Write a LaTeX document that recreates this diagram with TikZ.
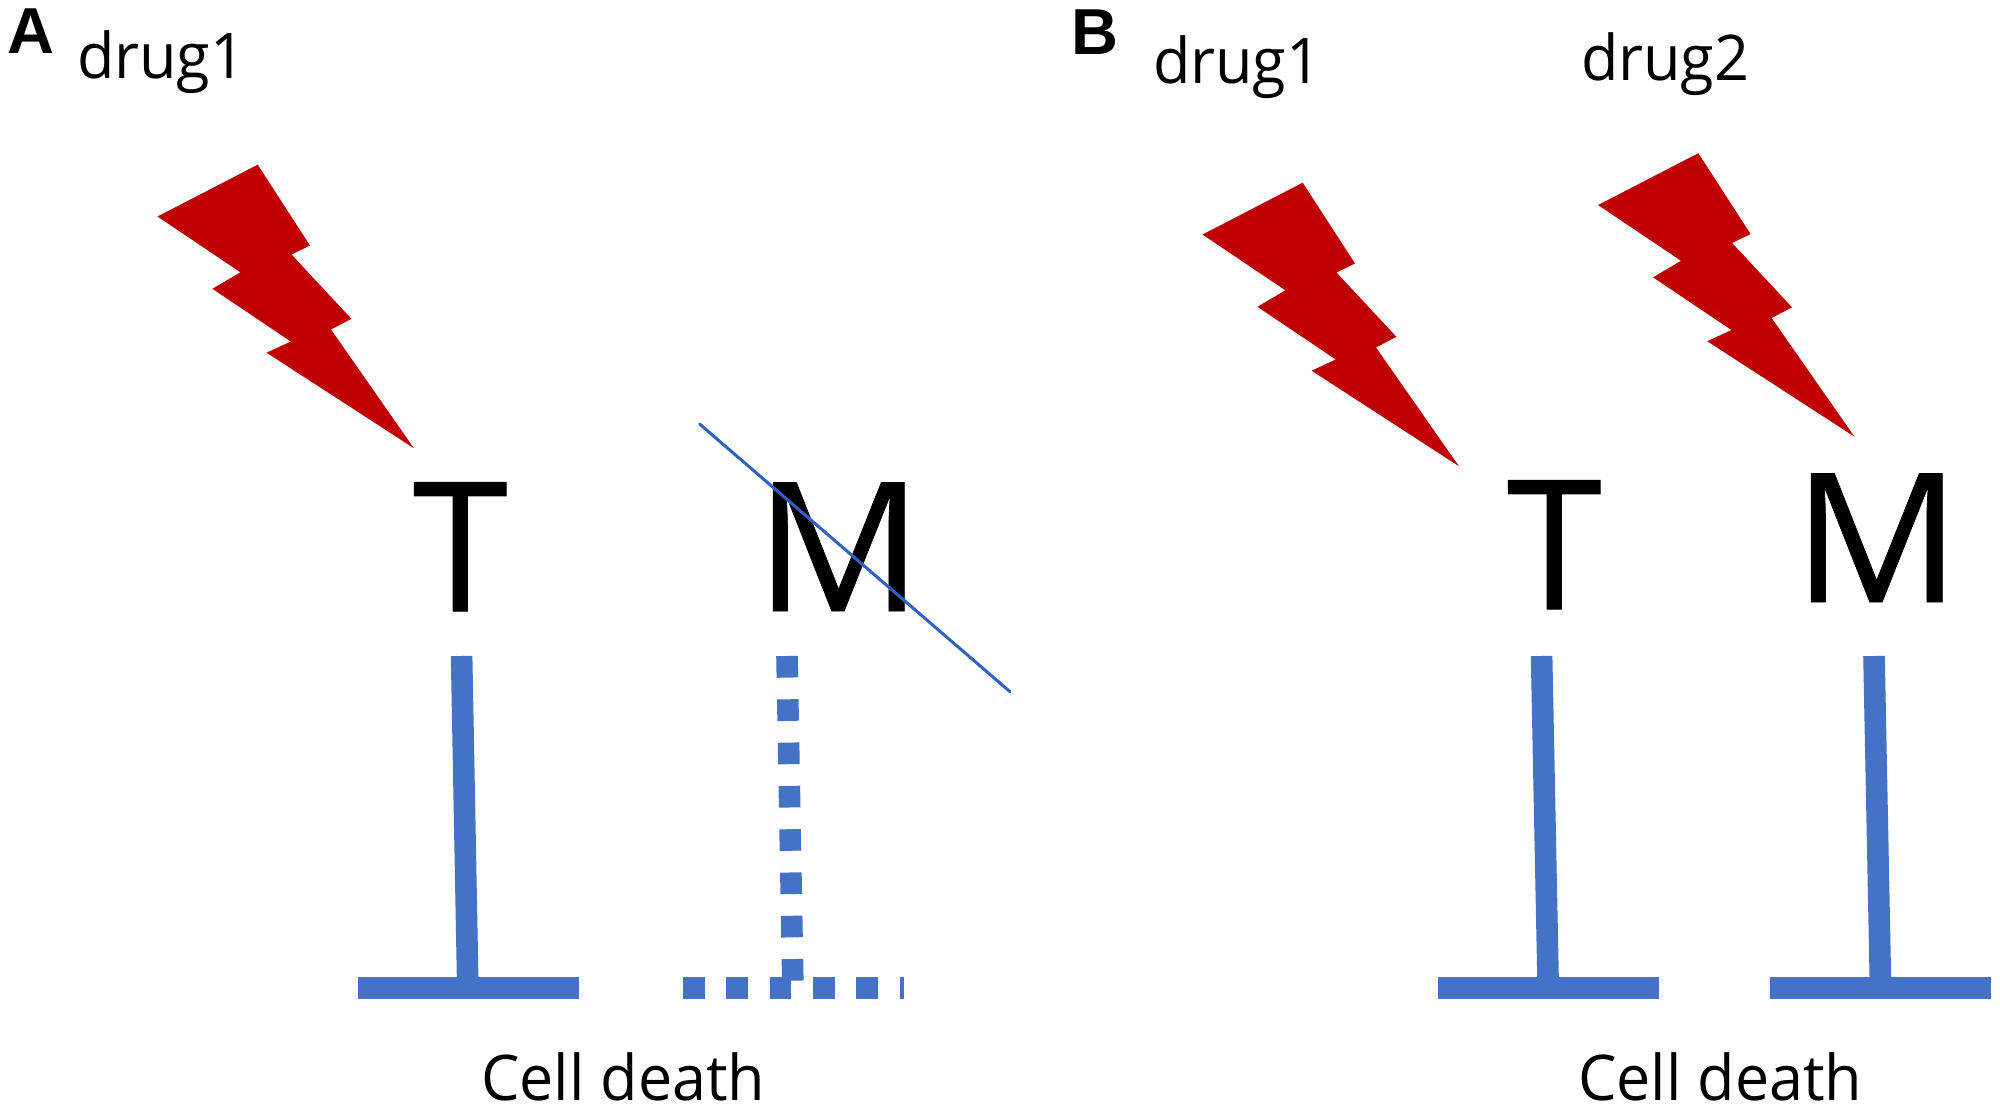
\documentclass[tikz,border=0pt]{standalone}
\usepackage{fontspec}
\setmainfont{Open Sans}[FakeStretch=0.97]
\newfontfamily\bigfont{Open Sans}[FakeStretch=1.03,FakeBold=0.4]
\newfontfamily\teefont{Open Sans}[FakeStretch=0.95,FakeBold=0.6]
\newfontfamily\panelfont{Liberation Sans}
\definecolor{barblue}{HTML}{4472C4}
\definecolor{crossblue}{HTML}{2F62C4}
\definecolor{boltred}{HTML}{C00000}
\newcommand{\boltshape}{(257.7,164.7) -- (310,245.5) -- (291.5,254.5) -- (351.4,318.8) -- (331,329.5) -- (413.9,448.2) -- (266.6,352.7) -- (290.8,341.5) -- (212.4,288.8) -- (240.4,272.3) -- (157.5,216.5) -- cycle}
\tikzset{
  x=1pt, y=-1pt,
  txt/.style={inner sep=0pt, outer sep=0pt, anchor=base west, text=black},
  big/.style={txt, font=\bigfont\fontsize{180}{180}\selectfont},
  tee/.style={txt, font=\teefont\fontsize{180}{180}\selectfont},
  small/.style={txt, font=\fontsize{63}{63}\selectfont},
  panel/.style={txt, font=\panelfont\bfseries\fontsize{65}{65}\selectfont},
  bolt/.style={fill=boltred, draw=none},
  bar/.style={draw=barblue, line width=21.6pt, line cap=butt},
  dashbar/.style={bar, dash pattern=on 21.6pt off 21.7pt},
  cross/.style={draw=crossblue, line width=3pt, line cap=round}
}
\begin{document}
\begin{tikzpicture}
\useasboundingbox (0,0) rectangle (2000,1112);
\fill[white] (0,0) rectangle (2000,1112);
% panel letters
\node[panel] (labA) at (7,53.6) {A};
\node[panel] (labB) at (1071,54) {B};
% drug labels
\node[small] (drugAone) at (77,78) {drug1};
\node[small] (drugBone) at (1153,83) {drug1};
\node[small] (drugBtwo) at (1581,80) {drug2};
% lightning bolts
\path[bolt] \boltshape;
\begin{scope}[shift={(1045,18)}]
\path[bolt] \boltshape;
\end{scope}
\begin{scope}[shift={(1440.6,-11.5)}]
\path[bolt] \boltshape;
\end{scope}
% targets
\node[tee] (TA) at (413,611) {T};
\node[big] (MA) at (755,611) {M};
\node[tee] (TB) at (1507,609) {T};
\node[big] (MB) at (1793,602) {M};
% stems and bars
\coordinate (sTAa) at (461.6,656);
\coordinate (sTAb) at (467.8,987);
\coordinate (bTAa) at (357.6,988);
\coordinate (bTAb) at (579,988);
\draw[bar] (sTAa) -- (sTAb);
\draw[bar] (bTAa) -- (bTAb);
\coordinate (sMAa) at (787,656);
\coordinate (sMAb) at (792.8,981);
\coordinate (bMAa) at (683,988);
\coordinate (bMAb) at (904,988);
\draw[dashbar] (sMAa) -- (sMAb);
\draw[dashbar] (bMAa) -- (bMAb);
\coordinate (sTBa) at (1541.6,656);
\coordinate (sTBb) at (1548.2,987);
\coordinate (bTBa) at (1437.5,988);
\coordinate (bTBb) at (1659,988);
\draw[bar] (sTBa) -- (sTBb);
\draw[bar] (bTBa) -- (bTBb);
\coordinate (sMBa) at (1874,656);
\coordinate (sMBb) at (1880.5,987);
\coordinate (bMBa) at (1769.7,988);
\coordinate (bMBb) at (1991.3,988);
\draw[bar] (sMBa) -- (sMBb);
\draw[bar] (bMBa) -- (bMBb);
% strike-through
\coordinate (crossa) at (699.6,424);
\coordinate (crossb) at (1010,691.7);
\draw[cross] (crossa) -- (crossb);
% outcome labels
\node[small] (deathA) at (481,1100.5) {Cell death};
\node[small] (deathB) at (1578,1100) {Cell death};
\end{tikzpicture}
\end{document}
